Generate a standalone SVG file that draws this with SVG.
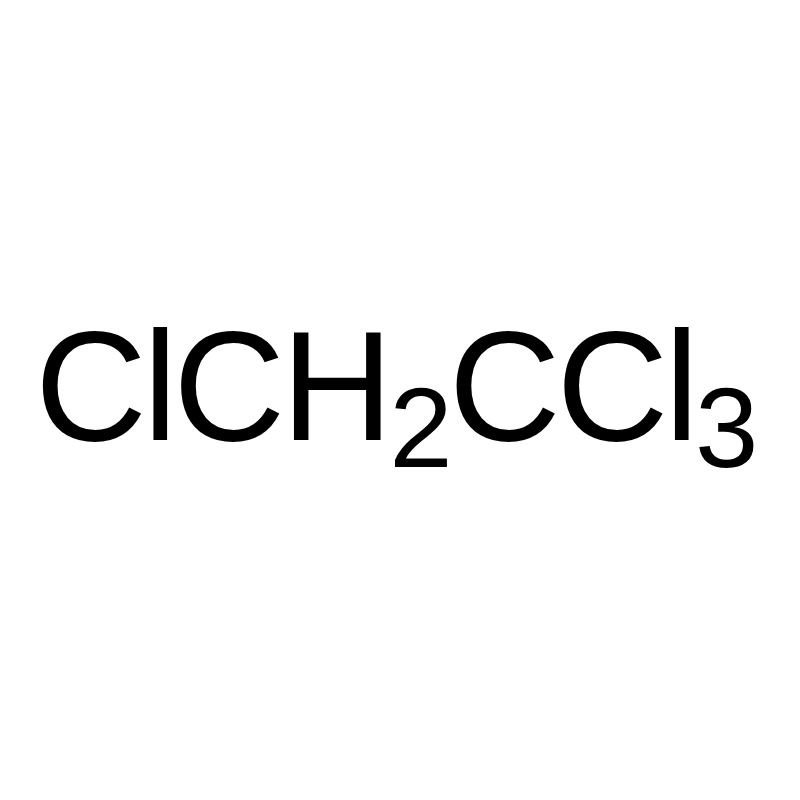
<svg xmlns="http://www.w3.org/2000/svg" width="800" height="800" viewBox="0 0 800 800">
<style>
.f{font-family:"Liberation Sans",Arial,sans-serif;fill:#000;font-size:155px;letter-spacing:-4px}
.s{font-size:114px}
</style>
<rect width="800" height="800" fill="#fff"/>
<g id="formula">
<text class="f" x="35" y="440">ClCH<tspan class="s" dy="27">2</tspan><tspan dy="-27">CCl</tspan><tspan class="s" dy="27">3</tspan></text>
</g>
</svg>
